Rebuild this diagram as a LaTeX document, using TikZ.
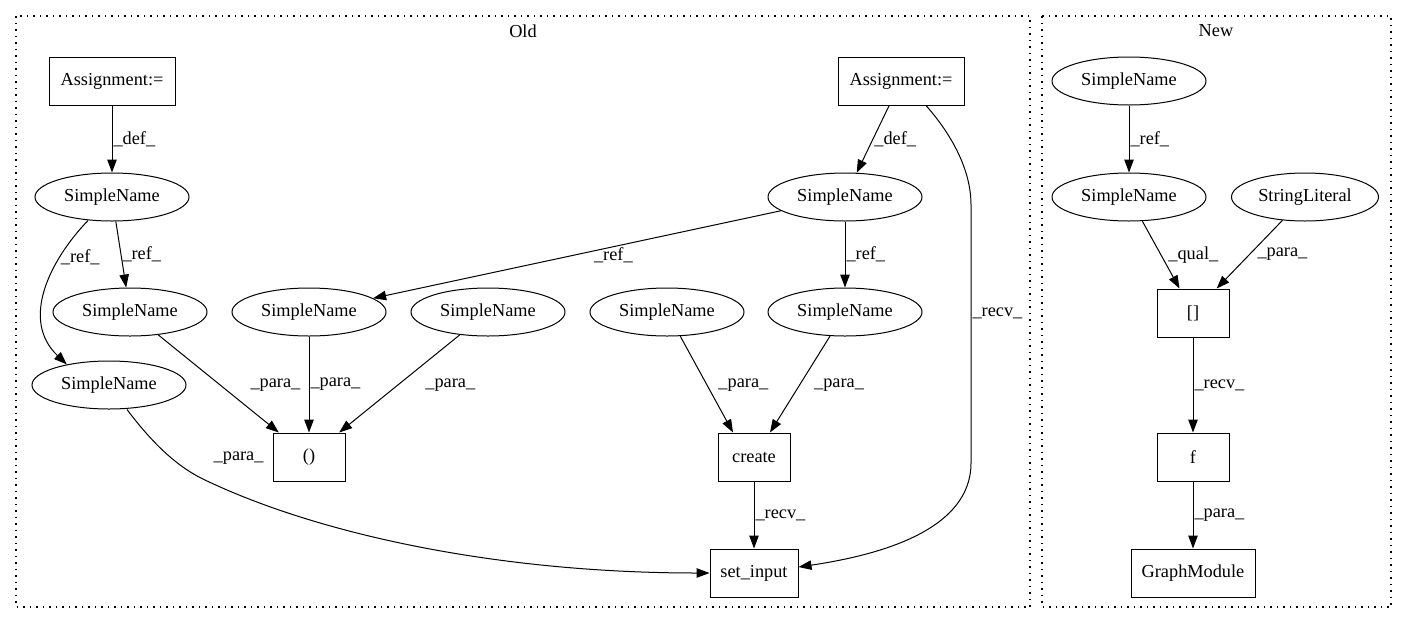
\documentclass[tikz,border=0pt]{standalone}
\usepackage{fontspec}
\setmainfont{Liberation Serif}
\usetikzlibrary{shapes.geometric,arrows.meta,calc}
\begin{document}
\begin{tikzpicture}[x=1pt,y=-1pt,
  every node/.style={font=\fontsize{18.3}{22}\selectfont},
  ell/.style={draw, ellipse, minimum width=154pt, minimum height=48pt, inner sep=0pt, line width=1pt},
  box/.style={draw, rectangle, minimum height=48pt, inner sep=0pt, line width=1pt},
  arr/.style={-{Triangle[length=13pt,width=9.5pt]}, line width=1pt},
  lbl/.style={anchor=west, inner sep=1pt},
  clus/.style={draw, line width=1.1pt, dash pattern=on 1.5pt off 5pt}]
\useasboundingbox (0,0) rectangle (1407,624);
% clusters
\draw[clus] (16,16) rectangle (1030,607);
\draw[clus] (1042,16) rectangle (1391,607);
\node (old) at (523,31) {Old};
\node (new) at (1216,31) {New};
% Old nodes
\node[box, minimum width=126pt] (A1) at (112,81) {Assignment:=};
\node[box, minimum width=126pt] (A2) at (901,81) {Assignment:=};
\node[ell] (S1) at (112,197) {SimpleName};
\node[ell] (S2) at (845,197) {SimpleName};
\node[ell] (S3) at (130,312) {SimpleName};
\node[ell] (S4) at (309,312) {SimpleName};
\node[ell] (S5) at (488,312) {SimpleName};
\node[ell] (S6) at (667,312) {SimpleName};
\node[ell] (S7) at (845,312) {SimpleName};
\node[ell] (S8) at (109,385) {SimpleName};
\node[box, minimum width=72pt] (P) at (309,457) {()};
\node[box, minimum width=72pt] (C) at (754,457) {create};
\node[box, minimum width=88pt] (SI) at (754,573) {set\_input};
% New nodes
\node[ell] (N1) at (1129,81) {SimpleName};
\node[ell] (N2) at (1129,197) {SimpleName};
\node[ell, minimum width=147pt] (SL) at (1305,197) {StringLiteral};
\node[box, minimum width=72pt] (B) at (1193,313) {[]};
\node[box, minimum width=72pt] (F) at (1193,457) {f};
\node[box, minimum width=124pt] (G) at (1193,573) {GraphModule};
% Old edges
\draw[arr] (A1) -- node[lbl]{\_def\_} (S1);
\draw[arr] (S1) -- node[lbl]{\_ref\_} (S3);
\draw[arr] ($(S1.south)+(-24,-1)$) .. controls (50,260) and (20,320) .. node[lbl,pos=0.28]{\_ref\_} (S8.154);
\draw[arr] (A2) -- node[lbl]{\_def\_} (S2);
\draw[arr] ($(A2.south)+(25,0)$) .. controls (952,135) and (971,170) .. (971,205)
  -- node[lbl,pos=0.42]{\_recv\_} (971,463)
  .. controls (971,530) and (880,555) .. ($(SI.east)+(0,-6)$);
\draw[arr] (S2) -- node[lbl]{\_ref\_} (S7);
\draw[arr] (S2) -- node[lbl,pos=0.506,xshift=18pt]{\_ref\_} (S4);
\draw[arr] (S3) -- node[lbl,pos=0.513,xshift=29pt]{\_para\_} (P);
\draw[arr] (S4) -- node[lbl]{\_para\_} (P);
\draw[arr] (S5) -- node[lbl,pos=0.513,xshift=26pt]{\_para\_} (P);
\draw[arr] (S6) -- node[lbl,pos=0.507,xshift=10pt]{\_para\_} ($(C.north)+(-21,0)$);
\draw[arr] (S7) -- node[lbl,pos=0.507,xshift=13pt]{\_para\_} ($(C.north)+(16,0)$);
\draw[arr] (C) -- node[lbl]{\_recv\_} (SI);
\draw[arr] ($(S8.south)+(18,0)$) .. controls (150,440) and (175,466) .. node[lbl,pos=0.6,xshift=41pt]{\_para\_} (205,480)
  .. controls (320,535) and (500,573) .. (SI.west);
% New edges
\draw[arr] (N1) -- node[lbl]{\_ref\_} (N2);
\draw[arr] (N2) -- node[lbl,xshift=6pt]{\_qual\_} (B);
\draw[arr] (SL) -- node[lbl,xshift=6.5pt]{\_para\_} (B);
\draw[arr] (B) -- node[lbl]{\_recv\_} (F);
\draw[arr] (F) -- node[lbl]{\_para\_} (G);
\end{tikzpicture}
\end{document}
